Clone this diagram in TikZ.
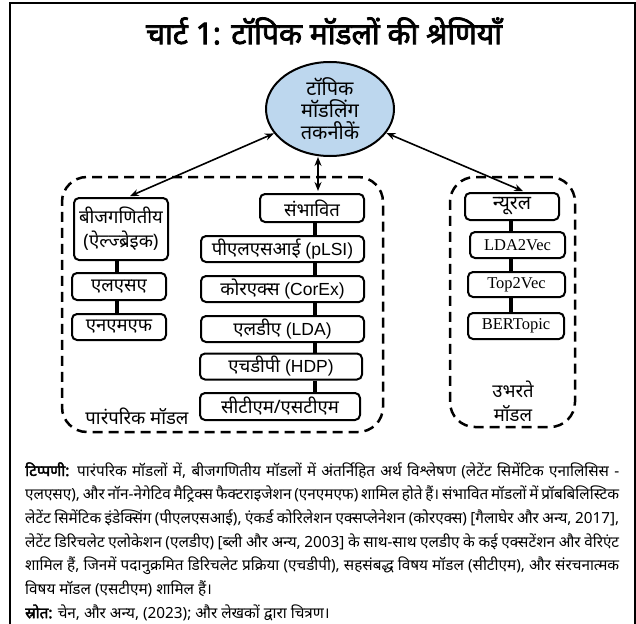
\documentclass[tikz,border=0pt]{standalone}
\usepackage{fontspec}
\setmainfont[Script=Devanagari]{Noto Sans}
\newfontfamily\notefont[Script=Devanagari,AutoFakeBold=2.5]{Noto Sans}
\newfontfamily\titlefont[Script=Devanagari,AutoFakeBold=2.5]{Noto Sans}
\newfontfamily\latsans{Liberation Sans}
\newfontfamily\latserif{Liberation Serif}
\newcommand\lat[1]{{\latsans\fontsize{17.5}{24}\selectfont #1}}
\usetikzlibrary{arrows.meta,shapes.geometric}
\definecolor{ellfill}{HTML}{BDD7EE}
\tikzset{
  box/.style={draw, line width=2pt, rounded corners=5pt, inner sep=0pt, align=center,
    font=\fontsize{18.5}{24}\selectfont},
  serifbox/.style={box, font=\latserif\fontsize{16.5}{20}\selectfont},
  conn/.style={line width=4pt},
  dbl/.style={line width=1.6pt, {Stealth[length=9pt,width=7pt]}-{Stealth[length=9pt,width=7pt]}, shorten >=2pt},
  dashbox/.style={draw, line width=2.5pt, dash pattern=on 10pt off 6pt, rounded corners=25pt, inner sep=0pt},
  lbl/.style={inner sep=0pt, align=center, font=\fontsize{18.5}{24}\selectfont},
}
\begin{document}
\begin{tikzpicture}[x=1pt,y=-1pt]
\useasboundingbox (0,0) rectangle (636,623);
% frame
\draw[line width=1.2pt] (10,3) rectangle (635,660);
% title
\node[inner sep=0pt] (title) at (324,31) {\titlefont\bfseries\fontsize{30}{33}\selectfont चार्ट 1: टॉपिक मॉडलों की श्रेणियाँ};
% containers
\node[dashbox, minimum width=321pt, minimum height=255pt] (trad) at (222.5,304.5) {};
\node[dashbox, minimum width=125pt, minimum height=250pt] (emer) at (512.5,302) {};
\node[lbl] (tradlbl) at (137,416) {पारंपरिक मॉडल};
\node[lbl] (emlbl) at (513,401) {उभरते\\मॉडल};
% central ellipse
\node[ellipse, draw, line width=2pt, fill=ellfill, minimum width=128pt, minimum height=94pt,
  align=center, inner sep=0pt, font=\fontsize{20}{22}\selectfont] (ell) at (330,109) {टॉपिक\\मॉडलिंग\\तकनीकें};
% left column
\node[box, minimum width=94pt, minimum height=62pt] (alg) at (121,229) {बीजगणितीय\\(ऐल्ज्ब्रेइक)};
\node[box, minimum width=94pt, minimum height=27pt] (lsa) at (119,286.5) {एलएसए};
\node[box, minimum width=94pt, minimum height=26pt] (nmf) at (119,327) {एनएमएफ};
% middle column
\node[box, minimum width=104pt, minimum height=28pt] (prob) at (312,208) {संभावित};
\node[box, minimum width=163pt, minimum height=26pt] (plsi) at (282.5,249) {पीएलएसआई \lat{(pLSI)}};
\node[box, minimum width=163pt, minimum height=26pt] (corex) at (282.5,289) {कोरएक्स \lat{(CorEx)}};
\node[box, minimum width=163pt, minimum height=26pt] (lda) at (282.5,329) {एलडीए \lat{(LDA)}};
\node[box, minimum width=162pt, minimum height=26pt] (hdp) at (281,366.5) {एचडीपी \lat{(HDP)}};
\node[box, minimum width=160pt, minimum height=27pt] (ctm) at (280,406.5) {सीटीएम/एसटीएम};
% right column
\node[box, minimum width=94pt, minimum height=27pt, font=\fontsize{19.5}{22}\selectfont] (neural) at (512,206.5) {न्यूरल};
\node[serifbox, minimum width=95pt, minimum height=26pt] (l2v) at (517.5,245) {LDA2Vec};
\node[serifbox, minimum width=97pt, minimum height=25pt] (t2v) at (516.5,284.5) {Top2Vec};
\node[serifbox, minimum width=96pt, minimum height=26pt] (bert) at (516,326) {BERTopic};
% connectors
\coordinate (xa) at (117,0);
\coordinate (xm) at (315,0);
\coordinate (xr) at (511,0);
\draw[conn] (alg.south -| xa) -- (lsa.north -| xa);
\draw[conn] (lsa.south -| xa) -- (nmf.north -| xa);
\draw[conn] (prob.south -| xm) -- (plsi.north -| xm);
\draw[conn] (plsi.south -| xm) -- (corex.north -| xm);
\draw[conn] (corex.south -| xm) -- (lda.north -| xm);
\draw[conn] (lda.south -| xm) -- (hdp.north -| xm);
\draw[conn] (hdp.south -| xm) -- (ctm.north -| xm);
\draw[conn] (neural.south -| xr) -- (l2v.north -| xr);
\draw[conn] (l2v.south -| xr) -- (t2v.north -| xr);
\draw[conn] (t2v.south -| xr) -- (bert.north -| xr);
% arrows
\coordinate (va) at (318,0);
\draw[dbl] (ell) -- ([xshift=7pt]alg.north);
\draw[dbl] (ell.south -| va) -- (prob.north -| va);
\draw[dbl] (ell) -- ([xshift=13pt]neural.north);
% note
\node[anchor=base west, inner sep=0pt] (note) at (25,476) {\notefont\fontsize{15.3}{23.7}\selectfont
\vtop{\hsize=594pt \baselineskip=23.7pt
\hbox to\hsize{\textbf{टिप्पणी:} पारंपरिक मॉडलों में, बीजगणितीय मॉडलों में अंतर्निहित अर्थ विश्लेषण (लेटेंट सिमेंटिक एनालिसिस -}
\hbox to\hsize{एलएसए), और नॉन-नेगेटिव मैट्रिक्स फैक्टराइजेशन (एनएमएफ) शामिल होते हैं। संभावित मॉडलों में प्रॉबबिलिस्टिक}
\hbox to\hsize{लेटेंट सिमेंटिक इंडेक्सिंग (पीएलएसआई), एंकर्ड कोरिलेशन एक्सप्लेनेशन (कोरएक्स) [गैलाघेर और अन्य, 2017],}
\hbox to\hsize{लेटेंट डिरिचलेट एलोकेशन (एलडीए) [ब्ली और अन्य, 2003] के साथ-साथ एलडीए के कई एक्सटेंशन और वेरिएंट}
\hbox to\hsize{शामिल हैं, जिनमें पदानुक्रमित डिरिचलेट प्रक्रिया (एचडीपी), सहसंबद्ध विषय मॉडल (सीटीएम), और संरचनात्मक}
\hbox{विषय मॉडल (एसटीएम) शामिल हैं।}
\hbox{\textbf{स्रोत:} चेन, और अन्य, (2023); और लेखकों द्वारा चित्रण।}
}};
\end{tikzpicture}
\end{document}
